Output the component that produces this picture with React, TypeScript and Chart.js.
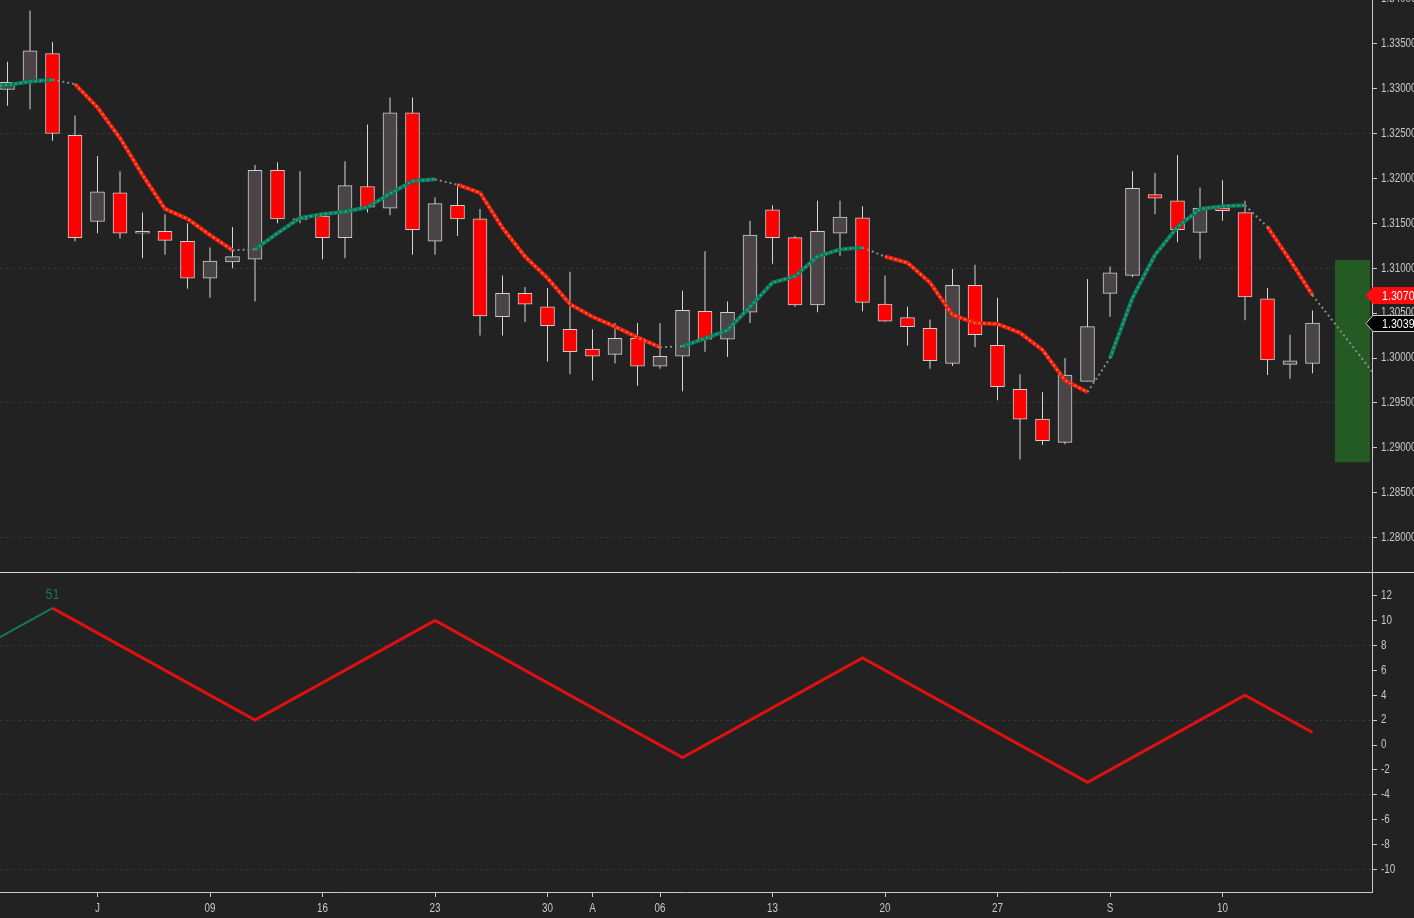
import React, { useEffect, useRef } from 'react';
import Chart from 'chart.js/auto';

// daily candles, one per weekday (index 0 .. 58)
const opens = [
  1.3299, 1.3307, 1.3339, 1.3248, 1.3152, 1.3184, 1.3139, 1.3141, 1.3130, 1.3089,
  1.3107, 1.3110, 1.3209, 1.3154, 1.3158, 1.3134, 1.3191, 1.3167, 1.3273, 1.3130,
  1.3170, 1.3155, 1.3046, 1.3072, 1.3057, 1.3032, 1.3010, 1.3004, 1.3022, 1.2991,
  1.3002, 1.3052, 1.3021, 1.3051, 1.3165, 1.3134, 1.3059, 1.3139, 1.3156, 1.3060,
  1.3045, 1.3033, 1.2994, 1.3081, 1.3014, 1.2965, 1.2932, 1.2906, 1.2974, 1.3072,
  1.3092, 1.3182, 1.3175, 1.3140, 1.3167, 1.3162, 1.3066, 1.2993, 1.2994,
];
const highs = [
  1.3330, 1.3387, 1.3352, 1.3270, 1.3225, 1.3208, 1.3162, 1.3160, 1.3150, 1.3123,
  1.3146, 1.3215, 1.3218, 1.3208, 1.3162, 1.3219, 1.3260, 1.3290, 1.3290, 1.3179,
  1.3193, 1.3166, 1.3092, 1.3079, 1.3078, 1.3096, 1.3032, 1.3039, 1.3039, 1.3039,
  1.3075, 1.3119, 1.3063, 1.3153, 1.3170, 1.3136, 1.3175, 1.3175, 1.3169, 1.3092,
  1.3057, 1.3043, 1.3099, 1.3104, 1.3067, 1.2982, 1.2962, 1.3000, 1.3088, 1.3102,
  1.3208, 1.3206, 1.3226, 1.3190, 1.3198, 1.3175, 1.3078, 1.3026, 1.3053,
];
const lows = [
  1.3281, 1.3277, 1.3242, 1.3130, 1.3139, 1.3133, 1.3111, 1.3115, 1.3077, 1.3067,
  1.3100, 1.3063, 1.3150, 1.3150, 1.3110, 1.3111, 1.3162, 1.3159, 1.3115, 1.3115,
  1.3136, 1.3025, 1.3025, 1.3040, 1.2996, 1.2982, 1.2975, 1.2994, 1.2969, 1.2988,
  1.2963, 1.3007, 1.3001, 1.3039, 1.3105, 1.3057, 1.3051, 1.3114, 1.3052, 1.3040,
  1.3014, 1.2988, 1.2991, 1.3012, 1.2953, 1.2887, 1.2903, 1.2904, 1.2974, 1.3046,
  1.3090, 1.3160, 1.3129, 1.3110, 1.3153, 1.3042, 1.2981, 1.2977, 1.2983,
];
const closes = [
  1.3307, 1.3342, 1.3250, 1.3134, 1.3185, 1.3139, 1.3141, 1.3131, 1.3089, 1.3108,
  1.3113, 1.3209, 1.3155, 1.3155, 1.3134, 1.3192, 1.3168, 1.3273, 1.3143, 1.3172,
  1.3155, 1.3047, 1.3072, 1.3060, 1.3036, 1.3007, 1.3002, 1.3022, 1.2991, 1.3002,
  1.3053, 1.3021, 1.3051, 1.3137, 1.3134, 1.3059, 1.3141, 1.3157, 1.3062, 1.3041,
  1.3035, 1.2997, 1.3081, 1.3026, 1.2968, 1.2932, 1.2908, 1.2981, 1.3035, 1.3095,
  1.3189, 1.3178, 1.3143, 1.3167, 1.3164, 1.3068, 1.2998, 1.2997, 1.3039,
];

// moving average, first value sits at index maStart (one bar before the first candle)
const maStart = -1;
const maValues = [
  1.3302, 1.3304, 1.3308, 1.3310, 1.3305, 1.3279, 1.3245, 1.3204, 1.3166, 1.3155,
  1.3137, 1.3120, 1.3121, 1.3139, 1.3156, 1.3160, 1.3163, 1.3168, 1.3183, 1.3197,
  1.3199, 1.3193, 1.3184, 1.3145, 1.3113, 1.3089, 1.3060, 1.3046, 1.3035, 1.3023,
  1.3012, 1.3013, 1.3022, 1.3031, 1.3057, 1.3084, 1.3091, 1.3113, 1.3121, 1.3123,
  1.3113, 1.3106, 1.3084, 1.3048, 1.3039, 1.3038, 1.3028, 1.3009, 1.2975, 1.2962,
  1.3000, 1.3067, 1.3115, 1.3146, 1.3166, 1.3169, 1.3170, 1.3146, 1.3109, 1.3070,
  1.3038, 1.3006, 1.2973,
];

// projection zone
const zoneStart = 59;
const zoneHigh = 1.3109;
const zoneLow = 1.2884;

// lower panel zigzag
const zigIdx = [-1, 2, 11, 19, 30, 38, 48, 55, 58];
const zigValues = [8, 11, 2, 10, -1, 7, -3, 4, 1];
const zigLabel = '51';

// date axis
const xTickIdx = [4, 9, 14, 19, 24, 26, 29, 34, 39, 44, 49, 54];
const xTickLabels = ['J', '09', '16', '23', '30', 'A', '06', '13', '20', '27', 'S', '10'];

const BG = '#222222';
const AXIS = '#c8c8c8';
const GRID = 'rgba(255,255,255,0.09)';
const RED = '#ff0000';
const BULL = '#4a4447';
const MA_RED = '#ee1d0e';
const MA_RED_DOT = '#ff6a3c';
const MA_GREEN = '#0b7a5c';
const MA_GREEN_DOT = '#2aa585';
const FONT = "'Liberation Sans', Arial, sans-serif";

const lastIdx = closes.length - 1;
const xMin = -1 / 3;
const xMax = 60.644;

function maKind(i0: number): 'up' | 'down' | 'gray' {
  const i1 = i0 + 1;
  if (maStart + i1 > lastIdx) return 'gray';
  const d = Math.sign(maValues[i1] - maValues[i0]);
  const prev = i0 > 0 ? Math.sign(maValues[i0] - maValues[i0 - 1]) : d;
  if (d !== prev) return 'gray';
  return d > 0 ? 'up' : 'down';
}

// narrow (condensed) label text, like the platform's axis font
function narrowText(ctx: CanvasRenderingContext2D, text: string, x: number, y: number,
  size: number, color: string, align: CanvasTextAlign = 'left', squeeze = 0.82) {
  ctx.save();
  ctx.translate(x, y);
  ctx.scale(squeeze, 1);
  ctx.font = `${size}px ${FONT}`;
  ctx.fillStyle = color;
  ctx.textAlign = align;
  ctx.textBaseline = 'middle';
  ctx.fillText(text, 0, 0);
  ctx.restore();
}

const rightAxisFit = (scale: any) => {
  scale.width = 42;
  scale.paddingTop = 0;
  scale.paddingBottom = 0;
};

const App: React.FC = () => {
  const topRef = useRef<HTMLCanvasElement>(null);
  const botRef = useRef<HTMLCanvasElement>(null);

  useEffect(() => {
    document.body.style.background = BG;
    if (!topRef.current || !botRef.current) return;

    const zonePlugin = {
      id: 'zone',
      beforeDatasetsDraw(chart: any) {
        const { ctx, chartArea, scales } = chart;
        const x0 = scales.x.getPixelForValue(zoneStart);
        const y0 = scales.y.getPixelForValue(zoneHigh);
        const y1 = scales.y.getPixelForValue(zoneLow);
        ctx.save();
        ctx.fillStyle = '#245a23';
        ctx.fillRect(x0, y0, chartArea.right - 2 - x0, y1 - y0);
        ctx.restore();
      },
    };

    const topLabels = {
      id: 'topLabels',
      afterDraw(chart: any) {
        const { ctx, chartArea, scales, width } = chart;
        scales.y.ticks.forEach((t: any) => {
          narrowText(ctx, t.value.toFixed(5), chartArea.right + 9, scales.y.getPixelForValue(t.value), 12, AXIS);
        });
        const drawTag = (value: number, fill: string, stroke: string) => {
          const y = Math.round(scales.y.getPixelForValue(value)) + 0.5;
          const tip = chartArea.right - 6;
          ctx.save();
          ctx.beginPath();
          ctx.moveTo(tip, y);
          ctx.lineTo(tip + 7, y - 8);
          ctx.lineTo(width + 2, y - 8);
          ctx.lineTo(width + 2, y + 8);
          ctx.lineTo(tip + 7, y + 8);
          ctx.closePath();
          ctx.fillStyle = fill;
          ctx.fill();
          ctx.strokeStyle = stroke;
          ctx.lineWidth = 1;
          ctx.stroke();
          ctx.restore();
          narrowText(ctx, value.toFixed(4), chartArea.right + 10, y + 0.5, 13, '#ffffff');
        };
        drawTag(closes[lastIdx], '#000000', '#cfcfcf');
        drawTag(maValues[lastIdx - maStart], '#ff0d0d', '#ff0d0d');
      },
    };

    const top = new Chart(topRef.current, {
      type: 'bar',
      data: {
        datasets: [
          {
            type: 'line',
            data: maValues.map((v, i) => ({ x: maStart + i, y: v })),
            borderWidth: 4,
            pointRadius: 0,
            order: 1,
            segment: {
              borderColor: (c: any) => {
                const k = maKind(c.p0DataIndex);
                return k === 'up' ? MA_GREEN : k === 'down' ? MA_RED : 'rgba(0,0,0,0)';
              },
            },
          } as any,
          {
            type: 'line',
            data: maValues.map((v, i) => ({ x: maStart + i, y: v })),
            borderWidth: 2,
            pointRadius: 0,
            order: 0,
            segment: {
              borderColor: (c: any) => {
                const k = maKind(c.p0DataIndex);
                return k === 'up' ? MA_GREEN_DOT : k === 'down' ? MA_RED_DOT : '#8a8a8a';
              },
              borderDash: () => [2, 3],
            },
          } as any,
          {
            data: highs.map((h, i) => ({ x: i, y: [lows[i], h] })),
            backgroundColor: '#d6d6d6',
            barThickness: 1,
            grouped: false,
            inflateAmount: 0,
            order: 3,
          } as any,
          {
            data: opens.map((o, i) => ({ x: i, y: [o, closes[i]] })),
            backgroundColor: opens.map((o, i) => (closes[i] >= o ? BULL : RED)),
            borderColor: '#d0d0d0',
            borderWidth: 1,
            borderSkipped: false,
            barThickness: 14,
            grouped: false,
            order: 2,
          } as any,
        ],
      },
      options: {
        responsive: false,
        animation: false,
        plugins: { legend: { display: false }, tooltip: { enabled: false } },
        layout: { padding: 0 },
        scales: {
          x: { type: 'linear', display: false, min: xMin, max: xMax, offset: false },
          y: {
            type: 'linear',
            position: 'right',
            min: 1.27617,
            max: 1.33987,
            afterFit: rightAxisFit,
            afterBuildTicks: (s: any) => {
              s.ticks.push({ value: 1.34 });
            },
            grid: {
              color: (c: any) =>
                c.tick && Math.round((c.tick.value - 1.28) / 0.005) % 3 === 0 ? GRID : 'rgba(0,0,0,0)',
              tickColor: AXIS,
              tickLength: 5,
            },
            border: { display: true, color: AXIS, dash: [3, 3] },
            ticks: { stepSize: 0.005, includeBounds: false, display: false },
          },
        },
      } as any,
      plugins: [zonePlugin, topLabels],
    });

    const bottomPlugin = {
      id: 'panelDecor',
      afterDraw(chart: any) {
        const { ctx, chartArea, scales, width } = chart;
        ctx.save();
        ctx.strokeStyle = '#d8d8d8';
        ctx.lineWidth = 1;
        ctx.beginPath();
        ctx.moveTo(0, 0.5);
        ctx.lineTo(width, 0.5);
        ctx.stroke();
        ctx.restore();
        narrowText(ctx, zigLabel, scales.x.getPixelForValue(zigIdx[1]),
          scales.y.getPixelForValue(zigValues[1]) - 13, 14, '#127a5a', 'center', 0.9);
        scales.y.ticks.forEach((t: any) => {
          narrowText(ctx, String(t.value), chartArea.right + 9, scales.y.getPixelForValue(t.value), 12, AXIS);
        });
        scales.x.ticks.forEach((t: any, i: number) => {
          narrowText(ctx, xTickLabels[i], scales.x.getPixelForValue(t.value), chartArea.bottom + 17, 12, AXIS, 'center');
        });
      },
    };

    const bottom = new Chart(botRef.current, {
      type: 'line',
      data: {
        datasets: [
          {
            data: zigIdx.map((x, i) => ({ x, y: zigValues[i] })),
            pointRadius: 0,
            borderWidth: 3,
            segment: {
              borderColor: (c: any) => (c.p0DataIndex === 0 ? '#127a5a' : '#e01010'),
              borderWidth: (c: any) => (c.p0DataIndex === 0 ? 2 : 3),
            },
          } as any,
        ],
      },
      options: {
        responsive: false,
        animation: false,
        plugins: { legend: { display: false }, tooltip: { enabled: false } },
        layout: { padding: { top: 1 } },
        scales: {
          x: {
            type: 'linear',
            min: xMin,
            max: xMax,
            afterBuildTicks: (s: any) => {
              s.ticks = xTickIdx.map((v) => ({ value: v }));
            },
            afterFit: (s: any) => {
              s.height = 26;
              s.paddingLeft = 0;
              s.paddingRight = 0;
            },
            grid: { drawOnChartArea: false, tickColor: AXIS, tickLength: 5, color: AXIS },
            border: { display: true, color: AXIS },
            ticks: { autoSkip: false, maxRotation: 0, display: false },
          },
          y: {
            type: 'linear',
            position: 'right',
            min: -11.81,
            max: 13.82,
            afterFit: rightAxisFit,
            grid: {
              color: (c: any) =>
                c.tick && Math.round(c.tick.value + 10) % 6 === 0 ? GRID : 'rgba(0,0,0,0)',
              tickColor: AXIS,
              tickLength: 5,
            },
            border: { display: true, color: AXIS, dash: [3, 3] },
            ticks: { stepSize: 2, includeBounds: false, display: false },
          },
        },
      } as any,
      plugins: [bottomPlugin],
    });

    return () => {
      top.destroy();
      bottom.destroy();
    };
  }, []);

  return (
    <div style={{ position: 'absolute', left: 0, top: 0, width: 1414, height: 918, background: BG }}>
      <canvas ref={topRef} width={1414} height={572} style={{ display: 'block' }}></canvas>
      <canvas ref={botRef} width={1414} height={346} style={{ display: 'block' }}></canvas>
    </div>
  );
};

export default App;
